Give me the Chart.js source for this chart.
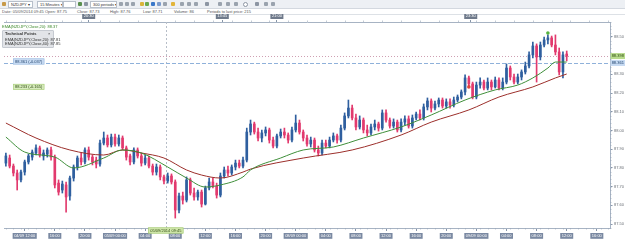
<!DOCTYPE html>
<html>
<head>
<meta charset="utf-8">
<script src="https://cdn.jsdelivr.net/npm/chart.js@4.4.1/dist/chart.umd.min.js"></script>
<style>
  html, body { margin: 0; padding: 0; background: #fff; }
  body { width: 625px; height: 240px; position: relative; overflow: hidden; font-family: "Liberation Sans", Arial, sans-serif; }
  #toolbar { position: absolute; left: 0; top: 0; width: 625px; height: 8px; background: #edf0f4; border-bottom: 1px solid #d3d8df; }
  .tb { position: absolute; top: 1px; height: 5px; border: 1px solid #b7bfca; background: #fff; font-size: 4px; line-height: 5px; color: #333; padding-left: 2px; white-space: nowrap; overflow: hidden; }
  .ic { position: absolute; top: 2px; width: 4px; height: 4px; border-radius: 1px; }
  #info { position: absolute; top: 9px; left: 0; width: 625px; height: 5px; border-bottom: 1px solid #dde1e6; }
  #info span { position: absolute; top: 0; font-size: 4px; line-height: 5px; color: #555; white-space: nowrap; }
  #chart-wrap { position: absolute; left: 0; top: 14px; width: 625px; height: 226px; }
  #ema-top { position: absolute; left: 2px; top: 25px; font-size: 4px; line-height: 4px; color: #3d8a2b; white-space: nowrap; }
  #tech { position: absolute; left: 2px; top: 30px; width: 50px; height: 16px; background: #e2e4e8; border: 1px solid #c6cad1; border-radius: 1px; }
  #tech div { position: absolute; left: 2px; font-size: 4px; line-height: 4px; color: #333; white-space: nowrap; }
</style>
</head>
<body>
<div id="toolbar">
  <span class="ic" style="left:2px;background:#c79a4a"></span>
  <div class="tb" style="left:8px;width:21px">NZDJPY ▾</div>
  <div class="tb" style="left:37px;width:22px">15 Minutes ▾</div>
  <div class="tb" style="left:63px;width:9px"></div>
  <span class="ic" style="left:78px;background:#5a8f4e"></span>
  <span class="ic" style="left:84px;background:#8d96a3"></span>
  <div class="tb" style="left:90px;width:23px">300 periods ▾</div>
  <span class="ic" style="left:119px;background:#9aa3ae"></span>
  <span class="ic" style="left:125px;background:#9aa3ae"></span>
  <span class="ic" style="left:131px;background:#9aa3ae"></span>
  <span class="ic" style="left:140px;background:#d9b43a"></span>
  <span class="ic" style="left:145px;background:#6aa84f"></span>
  <span class="ic" style="left:151px;background:#3a78c9"></span>
  <span class="ic" style="left:157px;background:#7d9ccc"></span>
  <span class="ic" style="left:163px;background:#9aa3ae"></span>
  <span class="ic" style="left:171px;background:#e2b53b"></span>
  <span class="ic" style="left:180px;background:#9aa3ae"></span>
  <span class="ic" style="left:187px;background:#9aa3ae"></span>
  <span class="ic" style="left:194px;background:#9aa3ae"></span>
  <span class="ic" style="left:205px;background:#8d96a3"></span>
  <span class="ic" style="left:218px;background:#9aa3ae"></span>
  <span class="ic" style="left:226px;background:#9aa3ae"></span>
  <span class="ic" style="left:234px;background:#9aa3ae"></span>
  <span class="ic" style="left:243px;background:#fff;border:1px solid #8d96a3;border-radius:3px;width:3px;height:3px"></span>
  <span class="ic" style="left:255px;background:#8d96a3"></span>
  <span class="ic" style="left:264px;background:#9aa3ae"></span>
  <span class="ic" style="left:271px;background:#9aa3ae"></span>
</div>
<div id="info">
  <span style="left:2px">Date: 05/09/2014 09:45</span>
  <span style="left:45px">Open: 87.75</span>
  <span style="left:77px">Close: 87.73</span>
  <span style="left:110px">High: 87.76</span>
  <span style="left:143px">Low: 87.71</span>
  <span style="left:174px">Volume: 86</span>
  <span style="left:207px">Periods to last price: 215</span>
</div>
<div id="chart-wrap"><canvas id="chart"></canvas></div>
<div id="ema-top">EMA(NZDJPY,Close,20): 88.37</div>
<div id="tech">
  <div style="top:1px;font-weight:bold">Technical Points</div>
  <div style="top:1px;left:45px">×</div>
  <div style="top:7px">EMA(NZDJPY,Close,20): 87.81</div>
  <div style="top:11px">EMA(NZDJPY,Close,40): 87.85</div>
</div>
<script>
// NZDJPY, one candle per slot
const opens = [
  87.826, 87.853, 87.810, 87.773, 87.736, 87.778, 87.832, 87.858, 87.880, 87.907,
  87.864, 87.874, 87.896, 87.858, 87.719, 87.682, 87.709, 87.650, 87.746, 87.805,
  87.853, 87.832, 87.896, 87.858, 87.842, 87.821, 87.933, 87.960, 87.923, 87.965,
  87.928, 87.960, 87.907, 87.864, 87.832, 87.896, 87.864, 87.826, 87.853, 87.810,
  87.778, 87.805, 87.752, 87.730, 87.757, 87.725, 87.575, 87.650, 87.628, 87.736,
  87.666, 87.645, 87.671, 87.607, 87.693, 87.725, 87.703, 87.655, 87.757, 87.789,
  87.773, 87.805, 87.826, 87.810, 87.842, 87.992, 88.035, 87.992, 87.960, 87.987,
  88.003, 87.949, 87.917, 87.971, 87.992, 87.976, 87.949, 88.003, 88.040, 87.992,
  87.960, 87.928, 87.949, 87.896, 87.880, 87.933, 87.917, 87.949, 87.971, 87.949,
  88.013, 88.078, 88.120, 88.067, 88.019, 88.056, 88.003, 87.987, 88.019, 88.035,
  88.013, 88.094, 88.056, 88.024, 88.045, 88.003, 88.045, 88.062, 88.024, 88.067,
  88.088, 88.067, 88.126, 88.158, 88.120, 88.142, 88.163, 88.131, 88.153, 88.136,
  88.163, 88.179, 88.206, 88.281, 88.249, 88.179, 88.243, 88.259, 88.227, 88.259,
  88.233, 88.270, 88.227, 88.259, 88.334, 88.286, 88.259, 88.286, 88.313, 88.345,
  88.404, 88.452, 88.393, 88.457, 88.484, 88.495, 88.457, 88.420, 88.313, 88.409
];
const highs = [
  87.880, 87.869, 87.821, 87.789, 87.789, 87.842, 87.874, 87.896, 87.923, 87.917,
  87.896, 87.907, 87.912, 87.869, 87.736, 87.730, 87.725, 87.757, 87.816, 87.864,
  87.880, 87.907, 87.912, 87.869, 87.858, 87.949, 87.992, 87.976, 87.981, 87.981,
  87.976, 87.971, 87.917, 87.874, 87.907, 87.907, 87.880, 87.869, 87.864, 87.821,
  87.821, 87.816, 87.762, 87.773, 87.768, 87.736, 87.666, 87.671, 87.752, 87.746,
  87.693, 87.682, 87.682, 87.703, 87.746, 87.746, 87.719, 87.773, 87.805, 87.810,
  87.816, 87.842, 87.842, 87.858, 88.013, 88.056, 88.045, 88.013, 88.003, 88.019,
  88.013, 87.965, 87.981, 88.008, 88.013, 87.987, 88.019, 88.083, 88.056, 88.003,
  87.976, 87.965, 87.960, 87.917, 87.949, 87.949, 87.965, 87.987, 87.981, 88.029,
  88.094, 88.163, 88.136, 88.088, 88.078, 88.067, 88.029, 88.035, 88.056, 88.045,
  88.110, 88.110, 88.067, 88.062, 88.056, 88.062, 88.078, 88.078, 88.083, 88.099,
  88.110, 88.142, 88.174, 88.169, 88.158, 88.174, 88.174, 88.169, 88.169, 88.179,
  88.190, 88.217, 88.297, 88.291, 88.259, 88.259, 88.281, 88.270, 88.281, 88.270,
  88.286, 88.281, 88.281, 88.356, 88.345, 88.302, 88.302, 88.324, 88.366, 88.420,
  88.473, 88.463, 88.473, 88.500, 88.511, 88.505, 88.511, 88.441, 88.420, 88.425
];
const lows = [
  87.810, 87.800, 87.757, 87.682, 87.725, 87.762, 87.821, 87.842, 87.869, 87.858,
  87.842, 87.858, 87.842, 87.693, 87.655, 87.666, 87.564, 87.628, 87.730, 87.789,
  87.816, 87.821, 87.842, 87.816, 87.800, 87.810, 87.923, 87.912, 87.912, 87.917,
  87.917, 87.896, 87.842, 87.816, 87.821, 87.853, 87.810, 87.816, 87.800, 87.762,
  87.762, 87.736, 87.714, 87.719, 87.714, 87.532, 87.559, 87.607, 87.618, 87.655,
  87.628, 87.628, 87.591, 87.602, 87.682, 87.693, 87.639, 87.645, 87.746, 87.757,
  87.762, 87.789, 87.800, 87.800, 87.832, 87.976, 87.981, 87.944, 87.939, 87.971,
  87.933, 87.907, 87.907, 87.960, 87.960, 87.933, 87.939, 87.992, 87.981, 87.944,
  87.917, 87.912, 87.885, 87.864, 87.869, 87.907, 87.907, 87.939, 87.933, 87.939,
  88.003, 88.067, 88.056, 88.003, 88.008, 87.987, 87.971, 87.976, 88.003, 87.997,
  88.003, 88.045, 88.013, 88.013, 87.992, 87.992, 88.029, 88.013, 88.013, 88.056,
  88.056, 88.056, 88.110, 88.099, 88.110, 88.126, 88.120, 88.120, 88.120, 88.126,
  88.153, 88.169, 88.190, 88.233, 88.169, 88.169, 88.227, 88.217, 88.217, 88.217,
  88.227, 88.217, 88.217, 88.249, 88.270, 88.249, 88.249, 88.270, 88.302, 88.334,
  88.388, 88.259, 88.377, 88.447, 88.463, 88.447, 88.404, 88.297, 88.281, 88.372
];
const closes = [
  87.864, 87.810, 87.773, 87.736, 87.778, 87.832, 87.864, 87.885, 87.907, 87.869,
  87.880, 87.896, 87.858, 87.709, 87.671, 87.714, 87.645, 87.746, 87.805, 87.853,
  87.832, 87.896, 87.858, 87.832, 87.821, 87.933, 87.960, 87.923, 87.965, 87.928,
  87.960, 87.907, 87.858, 87.832, 87.896, 87.864, 87.826, 87.853, 87.810, 87.778,
  87.805, 87.752, 87.730, 87.757, 87.725, 87.575, 87.650, 87.628, 87.736, 87.666,
  87.645, 87.671, 87.607, 87.693, 87.725, 87.703, 87.655, 87.757, 87.789, 87.773,
  87.805, 87.826, 87.810, 87.842, 87.992, 88.035, 87.992, 87.960, 87.987, 88.003,
  87.949, 87.917, 87.971, 87.992, 87.976, 87.949, 88.003, 88.040, 87.992, 87.960,
  87.928, 87.949, 87.896, 87.880, 87.933, 87.917, 87.949, 87.971, 87.949, 88.013,
  88.078, 88.120, 88.067, 88.019, 88.056, 88.003, 87.987, 88.019, 88.035, 88.013,
  88.094, 88.056, 88.024, 88.045, 88.003, 88.045, 88.062, 88.024, 88.067, 88.088,
  88.067, 88.126, 88.158, 88.120, 88.142, 88.163, 88.131, 88.153, 88.136, 88.163,
  88.179, 88.206, 88.281, 88.249, 88.179, 88.243, 88.259, 88.227, 88.259, 88.233,
  88.270, 88.227, 88.259, 88.334, 88.286, 88.259, 88.286, 88.313, 88.345, 88.404,
  88.452, 88.393, 88.457, 88.484, 88.495, 88.457, 88.420, 88.313, 88.404, 88.398
];

// moving averages, read at a few candles
const ema20Idx = [0, 5, 13, 18, 26, 31, 36, 43, 48, 53, 57, 63, 65, 73, 79, 87, 95, 105, 113, 122, 130, 136, 140, 144, 146, 149];
const ema20Vals = [87.965, 87.885, 87.858, 87.800, 87.853, 87.896, 87.880, 87.805, 87.746, 87.698, 87.709, 87.752, 87.789,
  87.853, 87.896, 87.912, 87.960, 88.019, 88.083, 88.163, 88.217, 88.243, 88.281, 88.334, 88.366, 88.366];
const ema40Idx = [0, 8, 17, 26, 31, 36, 42, 48, 52, 57, 63, 65, 79, 92, 105, 113, 123, 131, 140, 146, 149];
const ema40Vals = [88.040, 87.960, 87.896, 87.869, 87.896, 87.880, 87.853, 87.789, 87.762, 87.746, 87.778, 87.794,
  87.853, 87.896, 87.976, 88.045, 88.110, 88.179, 88.233, 88.281, 88.302];

const markerIdx = [123, 144];
const markerVals = [88.233, 88.521];

const yTicks = [87.5, 87.6, 87.7, 87.8, 87.9, 88.0, 88.1, 88.2, 88.3, 88.4, 88.5];
const bottomTickIdx = [5, 13, 21, 29, 37, 45, 53, 61, 69, 77, 85, 93, 101, 109, 117, 125, 133, 141, 149, 157];
const bottomTickLabels = ["04/09 12:00", "16:00", "20:00", "05/09 00:00", "04:00", "08:00", "12:00", "16:00", "20:00",
  "08/09 00:00", "04:00", "08:00", "12:00", "16:00", "20:00", "09/09 00:00", "04:00", "08:00", "12:00", "16:00"];
const topTickIdx = [22, 57.5, 72, 123.5];
const topTickLabels = ["20:30", "13:45", "21:00", "23:30"];

const crossIdx = 42.5;
const crossPrice = 88.361;
const crossTime = "05/09/2014 09:45";

const UP = "#2f5f9f";
const DOWN = "#e23a6e";
const FONT = "Liberation Sans";
const X_MIN = -0.5, X_MAX = 160.5;

const candleColors = closes.map((c, i) => (c >= opens[i] ? UP : DOWN));

function tag(ctx, text, x, y, w, fill, stroke, color, align) {
  ctx.font = `4px "${FONT}"`;
  const tw = ctx.measureText(text).width;
  const bw = w || tw + 4;
  const left = align === "center" ? x - bw / 2 : x;
  ctx.fillStyle = fill;
  ctx.fillRect(left, y - 3, bw, 6);
  if (stroke) {
    ctx.strokeStyle = stroke;
    ctx.lineWidth = 0.6;
    ctx.strokeRect(left + 0.3, y - 2.7, bw - 0.6, 5.4);
  }
  ctx.fillStyle = color;
  ctx.textBaseline = "middle";
  ctx.textAlign = "left";
  ctx.fillText(text, left + (bw - tw) / 2, y + 0.3);
}

// keep the plot flush with the canvas edges
function noPad(s) {
  s.paddingLeft = 0;
  s.paddingRight = 0;
  s.paddingTop = 0;
  s.paddingBottom = 0;
}

const overlays = {
  id: "overlays",
  beforeDatasetsDraw(chart) {
    const { ctx, chartArea: a, scales: { x, y } } = chart;
    ctx.save();
    ctx.lineWidth = 1;
    // crosshair, vertical
    const cx = Math.round(x.getPixelForValue(crossIdx)) + 0.5;
    ctx.setLineDash([2, 2]);
    ctx.strokeStyle = "#b7bec8";
    ctx.beginPath(); ctx.moveTo(cx, a.top); ctx.lineTo(cx, a.bottom); ctx.stroke();
    // last price, dotted
    const ly = Math.round(y.getPixelForValue(closes[closes.length - 1])) + 0.5;
    ctx.setLineDash([1, 2]);
    ctx.strokeStyle = "#cf9fb2";
    ctx.beginPath(); ctx.moveTo(a.left, ly); ctx.lineTo(a.right, ly); ctx.stroke();
    // crosshair, horizontal
    const cy = Math.round(y.getPixelForValue(crossPrice)) + 0.5;
    ctx.setLineDash([4, 2]);
    ctx.strokeStyle = "#8fb1da";
    ctx.beginPath(); ctx.moveTo(a.left, cy); ctx.lineTo(a.right, cy); ctx.stroke();
    ctx.restore();
  },
  afterDraw(chart) {
    const { ctx, chartArea: a, scales: { x, y } } = chart;
    ctx.save();
    // ruler ticks on the axes
    ctx.strokeStyle = "#9aa7b8";
    ctx.lineWidth = 0.6;
    ctx.beginPath();
    for (let p = 87.48; p <= 88.58; p += 0.02) {
      const py = Math.round(y.getPixelForValue(p)) + 0.5;
      ctx.moveTo(a.right, py); ctx.lineTo(a.right + 1.5, py);
    }
    for (let i = 0; i <= 160; i += 2) {
      const px = Math.round(x.getPixelForValue(i)) + 0.5;
      ctx.moveTo(px, a.bottom); ctx.lineTo(px, a.bottom + 1.5);
    }
    for (let i = 0; i <= 160; i += 5) {
      const px = Math.round(x.getPixelForValue(i)) + 0.5;
      ctx.moveTo(px, a.top); ctx.lineTo(px, a.top - 1.5);
    }
    ctx.stroke();

    const last = closes[closes.length - 1];
    const ly = y.getPixelForValue(last);
    const cy = y.getPixelForValue(crossPrice);
    const cx = x.getPixelForValue(crossIdx);
    const my = y.getPixelForValue(markerVals[0]);
    // price tags on the right axis
    tag(ctx, last.toFixed(3), a.right + 0.5, ly, 14.5, "#b8db8c", null, "#2c4a10", "left");
    tag(ctx, crossPrice.toFixed(3), a.right + 0.5, cy, 14.5, "#c6daf2", null, "#22446e", "left");
    // tags on the left
    tag(ctx, `${crossPrice.toFixed(3)} (${(crossPrice - last).toFixed(3)})`, 13, cy - 1.5, 0, "#c9dcf3", "#9dbbe0", "#22446e", "left");
    tag(ctx, `${markerVals[0].toFixed(3)} (${(markerVals[0] - last).toFixed(3)})`, 13, my, 0, "#d7ebbd", "#a9cd7c", "#2c4a10", "left");
    // crosshair time
    tag(ctx, crossTime, cx, a.bottom + 2.5, 0, "#d3e9ad", "#9bc36b", "#2c4a10", "center");
    ctx.restore();
  }
};

const labelBox = {
  showLabelBackdrop: true,
  backdropPadding: { x: 1.5, y: 0.5 },
  font: { family: FONT, size: 4 },
  maxRotation: 0,
  autoSkip: false,
};

new Chart(document.getElementById("chart"), {
  data: {
    datasets: [
      {
        type: "line",
        data: markerIdx.map((i, k) => ({ x: i, y: markerVals[k] })),
        showLine: false,
        pointRadius: 1.8,
        pointBorderWidth: 0,
        pointBackgroundColor: ["#e0453a", "#57b33f"],
        order: 0,
      },
      {
        type: "line",
        data: ema20Idx.map((i, k) => ({ x: i, y: ema20Vals[k] })),
        borderColor: "#3f8f3a",
        borderWidth: 1,
        pointRadius: 0,
        cubicInterpolationMode: "monotone",
        order: 1,
      },
      {
        type: "line",
        data: ema40Idx.map((i, k) => ({ x: i, y: ema40Vals[k] })),
        borderColor: "#9c2f2b",
        borderWidth: 1,
        pointRadius: 0,
        cubicInterpolationMode: "monotone",
        order: 2,
      },
      {
        type: "bar",
        data: opens.map((o, i) => ({ x: i, y: [o, closes[i]] })),
        backgroundColor: candleColors,
        barThickness: 2,
        minBarLength: 1,
        grouped: false,
        order: 3,
      },
      {
        type: "bar",
        data: lows.map((l, i) => ({ x: i, y: [l, highs[i]] })),
        backgroundColor: candleColors,
        barThickness: 1,
        grouped: false,
        order: 4,
      },
    ],
  },
  options: {
    responsive: true,
    maintainAspectRatio: false,
    animation: false,
    events: [],
    layout: { padding: 0 },
    plugins: { legend: { display: false }, tooltip: { enabled: false } },
    scales: {
      x: {
        type: "linear",
        position: "bottom",
        offset: false,
        min: X_MIN,
        max: X_MAX,
        afterFit: (s) => { s.height = 12; noPad(s); },
        afterBuildTicks: (s) => { s.ticks = bottomTickIdx.map((v) => ({ value: v })); },
        ticks: { ...labelBox, color: "#ffffff", backdropColor: "#7a89a2", padding: 2.5,
          callback: (v, i) => bottomTickLabels[i] },
        grid: { offset: false, drawOnChartArea: false, tickLength: 3, color: "#8795a8" },
        border: { color: "#a7b3c3" },
      },
      xTop: {
        type: "linear",
        position: "top",
        offset: false,
        min: X_MIN,
        max: X_MAX,
        afterFit: (s) => { s.height = 8; noPad(s); },
        afterBuildTicks: (s) => { s.ticks = topTickIdx.map((v) => ({ value: v })); },
        ticks: { ...labelBox, color: "#ffffff", backdropColor: "#6f7a8b", padding: 1.5,
          callback: (v, i) => topTickLabels[i] },
        grid: { offset: false, drawOnChartArea: false, tickLength: 2, color: "#8795a8" },
        border: { color: "#a7b3c3" },
      },
      y: {
        position: "right",
        min: 87.479,
        max: 88.58,
        afterFit: (s) => { s.width = 15; noPad(s); },
        afterBuildTicks: (s) => { s.ticks = yTicks.map((v) => ({ value: v })); },
        ticks: { font: { family: FONT, size: 4 }, color: "#6a6f76", padding: 1.5,
          callback: (v) => v.toFixed(2) },
        grid: { drawOnChartArea: false, tickLength: 2.5, color: "#8795a8" },
        border: { color: "#a7b3c3" },
      },
    },
  },
  plugins: [overlays],
});
</script>
</body>
</html>
